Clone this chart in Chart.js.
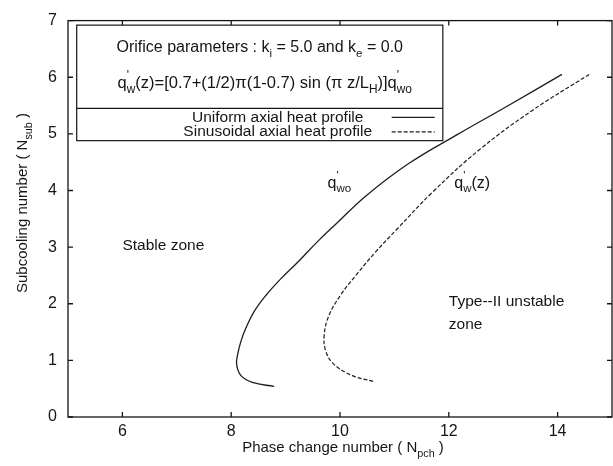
<!DOCTYPE html>
<html>
<head>
<meta charset="utf-8">
<script src="https://cdn.jsdelivr.net/npm/chart.js@4.4.0/dist/chart.umd.min.js"></script>
<style>
  body { margin: 0; background: #fff; }
</style>
</head>
<body>
<canvas id="stabilityMap" width="613" height="466"></canvas>
<script>
// stability boundary for uniform axial heat profile (q'wo)
const uniformNpch = [8.79, 8.39, 8.18, 8.10, 8.12, 8.18, 8.27, 8.42, 8.64, 8.91, 9.25, 9.60, 9.95, 10.47, 11.27, 12.18, 13.04, 14.08];
const uniformNsub = [0.54, 0.61, 0.73, 0.93, 1.11, 1.34, 1.57, 1.86, 2.15, 2.44, 2.76, 3.11, 3.43, 3.90, 4.48, 5.00, 5.47, 6.05];
// stability boundary for sinusoidal axial heat profile (q'w(z))
const sinNpch = [10.61, 10.23, 9.89, 9.74, 9.71, 9.80, 10.01, 10.29, 10.65, 11.05, 11.69, 12.55, 13.53, 14.58];
const sinNsub = [0.63, 0.73, 0.93, 1.16, 1.45, 1.80, 2.15, 2.50, 2.91, 3.32, 3.96, 4.71, 5.41, 6.05];

const seriesLabels = ['Uniform axial heat profile', 'Sinusoidal axial heat profile'];
const xTicks = [6, 8, 10, 12, 14];
const yTicks = [0, 1, 2, 3, 4, 5, 6, 7];

const FONT = '"Liberation Sans", Arial, sans-serif';
const INK = '#151515';

function pts(xs, ys) {
  return xs.map((x, i) => ({ x: x, y: ys[i] }));
}

// draws text made of parts, some of them sub- or superscript
// part: {t, sub, sup, stack} ; stack = don't advance (prime over subscript)
function richWidth(ctx, parts, size) {
  let w = 0;
  parts.forEach(p => {
    const s = (p.sub || p.sup) ? size * 0.72 : size;
    ctx.font = s + 'px ' + FONT;
    if (!p.stack) w += ctx.measureText(p.t).width;
  });
  return w;
}
function drawRich(ctx, parts, x, y, size, align) {
  const w = richWidth(ctx, parts, size);
  let cx = x;
  if (align === 'center') cx = x - w / 2;
  if (align === 'right') cx = x - w;
  ctx.textBaseline = 'alphabetic';
  ctx.textAlign = 'left';
  parts.forEach(p => {
    const s = (p.sub || p.sup) ? size * 0.72 : size;
    ctx.font = s + 'px ' + FONT;
    let dy = 0;
    if (p.sub) dy = size * 0.3;
    if (p.sup) dy = -size * 0.55;
    ctx.fillText(p.t, cx, y + dy);
    if (!p.stack) cx += ctx.measureText(p.t).width;
  });
}

const framePlugin = {
  id: 'frame',
  afterDraw(chart) {
    const ctx = chart.ctx;
    const a = chart.chartArea;
    const xs = chart.scales.x, ys = chart.scales.y;
    ctx.save();
    ctx.strokeStyle = INK;
    ctx.lineWidth = 1.3;
    ctx.strokeRect(a.left, a.top, a.right - a.left, a.bottom - a.top);
    ctx.beginPath();
    xTicks.forEach(v => {
      const px = xs.getPixelForValue(v);
      ctx.moveTo(px, a.bottom); ctx.lineTo(px, a.bottom - 5);
      ctx.moveTo(px, a.top); ctx.lineTo(px, a.top + 5);
    });
    yTicks.forEach(v => {
      const py = ys.getPixelForValue(v);
      ctx.moveTo(a.left, py); ctx.lineTo(a.left + 5, py);
      ctx.moveTo(a.right, py); ctx.lineTo(a.right - 5, py);
    });
    ctx.stroke();

    ctx.fillStyle = INK;
    // axis titles
    drawRich(ctx, [{ t: 'Phase change number ( N' }, { t: 'pch', sub: true }, { t: ' )' }],
      343, 452, 15, 'center');
    ctx.save();
    ctx.translate(27, 203);
    ctx.rotate(-Math.PI / 2);
    drawRich(ctx, [{ t: 'Subcooling number ( N' }, { t: 'sub', sub: true }, { t: ' )' }], 0, 0, 15, 'center');
    ctx.restore();

    // zone labels and curve labels
    ctx.font = '15.5px ' + FONT;
    ctx.textBaseline = 'middle';
    ctx.textAlign = 'left';
    ctx.fillText('Stable zone', xs.getPixelForValue(6.0), ys.getPixelForValue(3.03));
    ctx.fillText('Type--II unstable', xs.getPixelForValue(12.0), ys.getPixelForValue(2.03));
    ctx.fillText('zone', xs.getPixelForValue(12.0), ys.getPixelForValue(1.63));
    drawRich(ctx, [{ t: 'q' }, { t: "'", sup: true, stack: true }, { t: 'wo', sub: true }],
      xs.getPixelForValue(9.77), ys.getPixelForValue(4.05), 16, 'left');
    drawRich(ctx, [{ t: 'q' }, { t: "'", sup: true, stack: true }, { t: 'w', sub: true }, { t: '(z)' }],
      xs.getPixelForValue(12.1), ys.getPixelForValue(4.05), 16, 'left');

    // legend box
    const bl = xs.getPixelForValue(5.16), br = xs.getPixelForValue(11.89);
    const bt = ys.getPixelForValue(6.92), bb = ys.getPixelForValue(4.88);
    const sep = ys.getPixelForValue(5.45);
    ctx.fillStyle = '#fff';
    ctx.fillRect(bl, bt, br - bl, bb - bt);
    ctx.strokeStyle = INK;
    ctx.lineWidth = 1.2;
    ctx.strokeRect(bl, bt, br - bl, bb - bt);
    ctx.beginPath();
    ctx.moveTo(bl, sep); ctx.lineTo(br, sep);
    ctx.stroke();
    ctx.fillStyle = INK;
    drawRich(ctx, [{ t: 'Orifice parameters : k' }, { t: 'i', sub: true }, { t: ' = 5.0 and k' }, { t: 'e', sub: true }, { t: ' = 0.0' }],
      (bl + br) / 2, bt + 27, 16, 'center');
    drawRich(ctx, [{ t: 'q' }, { t: "'", sup: true, stack: true }, { t: 'w', sub: true },
      { t: '(z)=[0.7+(1/2)\u03c0(1-0.7) sin (\u03c0 z/L' }, { t: 'H', sub: true }, { t: ')]q' },
      { t: "'", sup: true, stack: true }, { t: 'wo', sub: true }],
      (bl + br) / 2 + 5, bt + 63, 16.5, 'center');
    chart.data.datasets.forEach((ds, i) => {
      const y = sep + 9 + i * 14.5;
      ctx.font = '15.5px ' + FONT;
      ctx.textAlign = 'center';
      ctx.textBaseline = 'middle';
      ctx.fillStyle = INK;
      ctx.fillText(ds.label, bl + 201, y);
      ctx.strokeStyle = ds.borderColor;
      ctx.lineWidth = ds.borderWidth;
      ctx.setLineDash(ds.borderDash || []);
      ctx.beginPath();
      ctx.moveTo(bl + 315, y); ctx.lineTo(bl + 358, y);
      ctx.stroke();
      ctx.setLineDash([]);
    });
    ctx.restore();
  }
};

const ctx = document.getElementById('stabilityMap').getContext('2d');
const stabilityMap = new Chart(ctx, {
  type: 'scatter',
  data: {
    datasets: [{
      label: seriesLabels[0],
      data: pts(uniformNpch, uniformNsub),
      showLine: true,
      borderColor: '#1e1e1e',
      borderWidth: 1.3,
      pointRadius: 0,
      tension: 0.4
    }, {
      label: seriesLabels[1],
      data: pts(sinNpch, sinNsub),
      showLine: true,
      borderColor: '#1e1e1e',
      borderWidth: 1.2,
      borderDash: [4, 2],
      pointRadius: 0,
      tension: 0.4
    }]
  },
  options: {
    responsive: false,
    animation: false,
    events: [],
    layout: { padding: { top: 15, right: 1 } },
    plugins: { legend: { display: false }, tooltip: { enabled: false } },
    scales: {
      x: {
        type: 'linear', min: 5, max: 15,
        afterBuildTicks: s => { s.ticks = xTicks.map(v => ({ value: v })); },
        afterFit: s => { s.height = 49; },
        grid: { display: false, drawTicks: false },
        border: { display: false },
        ticks: { padding: 5, color: INK, font: { size: 16, family: FONT } }
      },
      y: {
        type: 'linear', min: 0, max: 7,
        afterBuildTicks: s => { s.ticks = yTicks.map(v => ({ value: v })); },
        afterFit: s => { s.width = 68; },
        grid: { display: false, drawTicks: false },
        border: { display: false },
        ticks: { padding: 11, color: INK, font: { size: 16, family: FONT } }
      }
    }
  },
  plugins: [framePlugin]
});
</script>
</body>
</html>
